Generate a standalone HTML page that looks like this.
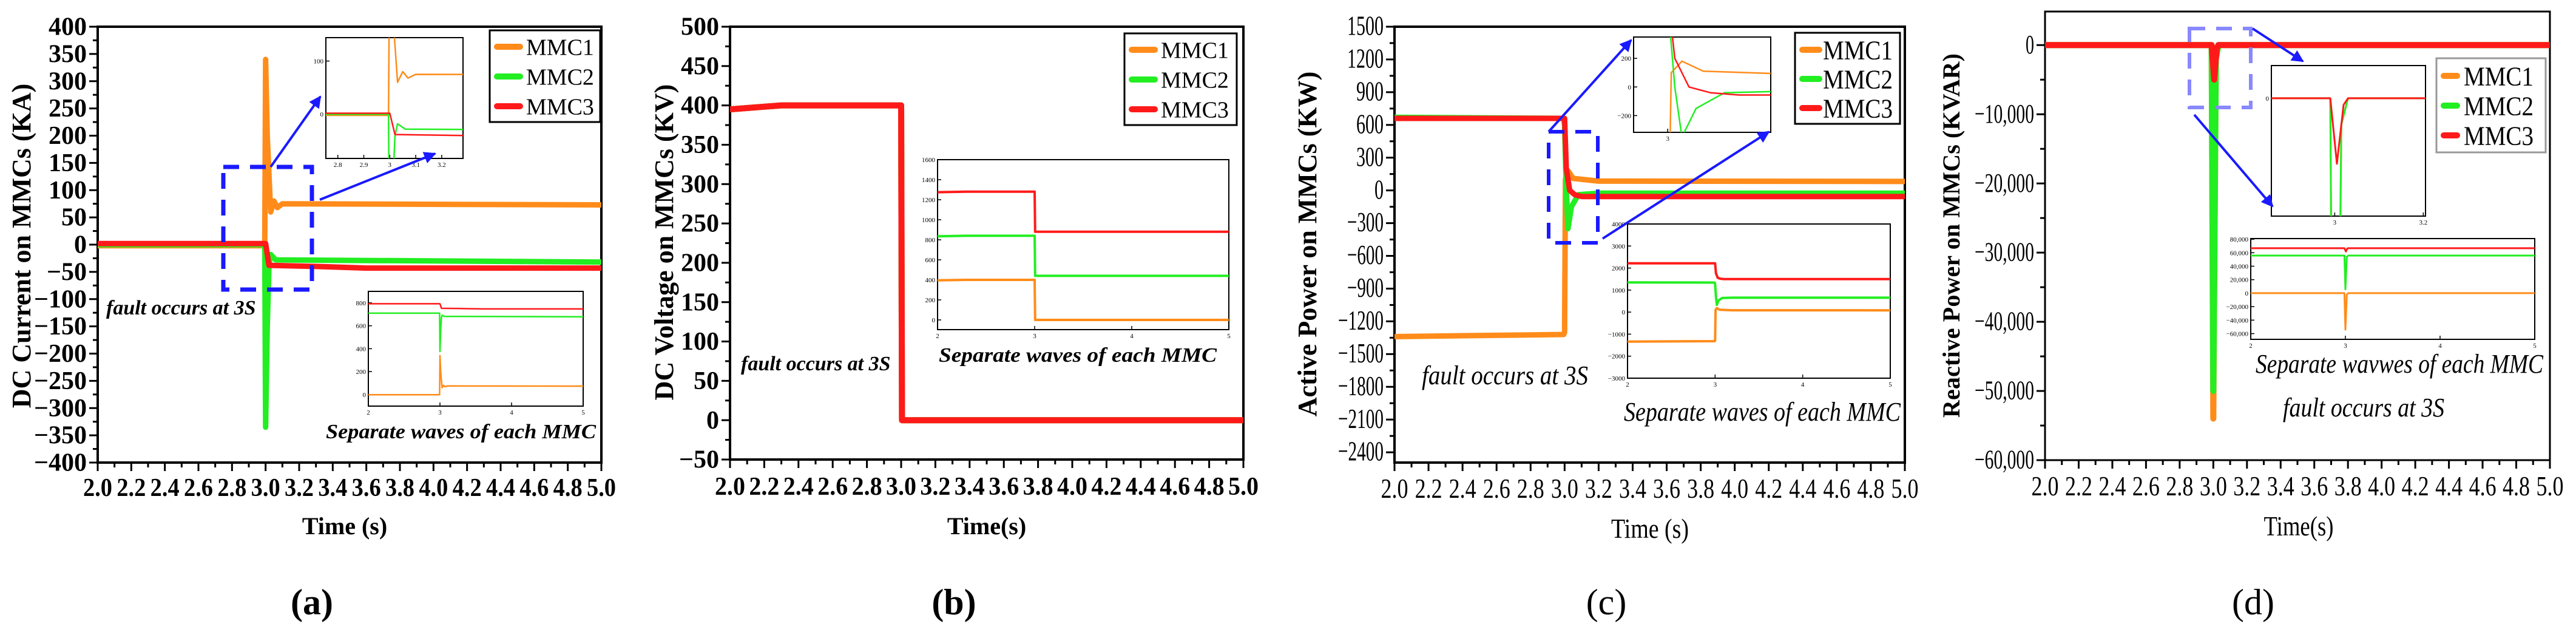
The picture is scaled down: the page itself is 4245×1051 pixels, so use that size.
<!DOCTYPE html>
<html><head><meta charset="utf-8"><style>
html,body{margin:0;padding:0;background:#fff;overflow:hidden;width:4245px;height:1051px;}
svg{display:block;position:absolute;left:0;top:0;}
text{font-family:"Liberation Serif",serif;}
</style></head><body>
<svg id="fig" width="4245" height="1051" viewBox="0 0 4245 1051" overflow="hidden" xmlns="http://www.w3.org/2000/svg">
<defs>
<marker id="arr" viewBox="0 0 10 10" refX="9" refY="5" markerWidth="5" markerHeight="5" orient="auto"><path d="M0,0L10,5L0,10z" fill="#1a1aff"/></marker>
</defs>
</svg>
<script>
// ---------- data ----------
const seriesNames = ["MMC1","MMC2","MMC3"];
const colors = ["#ff8c1a","#22ee22","#ff1a1a"];
// (a) DC current
const tA1=[2,2.995,3.0,3.01,3.03,3.05,3.07,3.1,5];
const vA1=[-2,-2,340,200,60,80,68,75,73];
const tA2=[2,2.995,3.0,3.01,3.02,3.03,3.06,5];
const vA2=[0,0,-335,-150,-40,-18,-28,-32];
const tA3=[2,3.0,3.02,3.3,3.6,5];
const vA3=[2,2,-38,-40,-43,-43];
const offA=[0,710,790];
// (b) DC voltage
const tB=[2,2.3,3.0,3.005,5];
const vB=[395,400,400,0,0];
const offB=[0,440,880];
// (c) active power
const tC1=[2,2.995,3.0,3.005,3.02,3.05,3.2,5];
const vC1=[-1340,-1320,-1300,100,180,110,85,82];
const tC2=[2,2.995,3.0,3.01,3.02,3.04,3.08,3.2,5];
const vC2=[670,660,600,0,-350,-150,-40,-26,-26];
const tC3=[2,3.0,3.01,3.03,3.06,3.1,5];
const vC3=[660,660,200,0,-40,-56,-56];
const offC=[0,680,1556];
// (d) reactive power
const tD1=[2,2.99,3.0,3.015,3.03,5];
const vD1=[0,0,-54000,-2000,0,0];
const tD2=[2,2.99,3.0,3.015,3.03,5];
const vD2=[0,0,-50000,-2000,0,0];
const tD3=[2,2.99,3.005,3.02,3.03,5];
const vD3=[0,0,-5000,-500,0,0];
const offD=[0,55800,66700];
const xTickLabels=["2.0","2.2","2.4","2.6","2.8","3.0","3.2","3.4","3.6","3.8","4.0","4.2","4.4","4.6","4.8","5.0"];

// ---------- helpers ----------
const NS="http://www.w3.org/2000/svg";
const svg=document.getElementById('fig');
function mk(tag,attrs,parent){const e=document.createElementNS(NS,tag);for(const k in attrs)e.setAttribute(k,attrs[k]);(parent||svg).appendChild(e);return e;}
function scale(d0,d1,r0,r1){return v=>r0+(v-d0)/(d1-d0)*(r1-r0);}
let clipId=0;
function drawSeries(g,sx,sy,ts,vs,off,color,w,name){
  let d="";
  for(let i=0;i<ts.length;i++){d+=(i?"L":"M")+sx(ts[i]).toFixed(1)+","+sy(vs[i]+off).toFixed(1);}
  const p=mk('path',{d:d,fill:'none',stroke:color,'stroke-width':w,'stroke-linejoin':'round'},g);
  
  
  return p;
}
function clipG(x0,y0,x1,y1){
  const id='c'+(clipId++);
  const cp=mk('clipPath',{id:id});
  mk('rect',{x:x0,y:y0,width:x1-x0,height:y1-y0},cp);
  return mk('g',{'clip-path':'url(#'+id+')'});
}
function txt(x,y,s,attrs){const t=mk('text',Object.assign({x:x,y:y},attrs||{}));t.textContent=s;return t;}
function fmt(v,comma){let s=Math.abs(v).toString();if(comma)s=s.replace(/\B(?=(\d{3})+(?!\d))/g,",");return (v<0?"\u2212":"")+s;}
function condense(t,s,cw){if(cw){t.setAttribute('textLength',(s.length*cw).toFixed(0));t.setAttribute('lengthAdjust','spacingAndGlyphs');}}

function axes(P){
  const sx=scale(2,5,P.x0,P.x1), sy=scale(P.yd[0],P.yd[1],P.y1,P.y0);
  const g=mk('g',{});
  
  
  mk('rect',{x:P.x0,y:P.y0,width:P.x1-P.x0,height:P.y1-P.y0,fill:'none',stroke:'#000','stroke-width':P.aw},g);
  for(let i=0;i<=30;i++){const t=2+i*0.1,x=sx(t),maj=i%2==0;
    mk('line',{x1:x,x2:x,y1:P.y1,y2:P.y1+(maj?14:8),stroke:'#000','stroke-width':3},g);}
  xTickLabels.forEach((s,i)=>{const t=txt(sx(2+i*0.2),P.xly,s,P.xfont);t.setAttribute('text-anchor','middle');
    condense(t,s,P.xcw);
    });
  for(let v=P.yt[0];v<=P.yt[1]+1e-9;v+=P.ys/2){const y=sy(v),maj=Math.round((v-P.yt[0])/(P.ys/2))%2==0;
    mk('line',{x1:P.x0,x2:P.x0-(maj?14:8),y1:y,y2:y,stroke:'#000','stroke-width':3},g);
    if(maj){const s=fmt(v,P.comma);const t=txt(P.x0-18,y+P.yfs*0.34,s,P.yfont);t.setAttribute('text-anchor','end');
      condense(t,s,P.ycw);
      }}
  return {sx,sy};
}
function inset(I,series,lw,name){
  const g0=mk('g',{});
  
  
  mk('rect',{x:I.x0,y:I.y0,width:I.x1-I.x0,height:I.y1-I.y0,fill:'#fff',stroke:'#000','stroke-width':2},g0);
  const sx=scale(I.xd[0],I.xd[1],I.x0,I.x1), sy=scale(I.yd[0],I.yd[1],I.y1,I.y0);
  I.xt.forEach(t=>{const x=sx(t);mk('line',{x1:x,x2:x,y1:I.y1,y2:I.y1-6,stroke:'#000','stroke-width':1.5},g0);
    txt(x,I.y1+14,String(t),{'font-size':11,'text-anchor':'middle'});});
  I.yt.forEach(v=>{const y=sy(v);mk('line',{x1:I.x0,x2:I.x0+6,y1:y,y2:y,stroke:'#000','stroke-width':1.5},g0);
    txt(I.x0-4,y+4,fmt(v,I.comma),{'font-size':11,'text-anchor':'end'});});
  const g=clipG(I.x0,I.y0,I.x1,I.y1);
  series.forEach((s,i)=>drawSeries(g,sx,sy,s[0],s[1],s[2],colors[i],lw,name+'-'+seriesNames[i].toLowerCase()));
}
function legend(L){
  const g=mk('g',{});
  
  
  mk('rect',{x:L.x,y:L.y,width:L.w,height:L.h,fill:'#fff',stroke:L.stroke||'#000','stroke-width':3},g);
  seriesNames.forEach((n,i)=>{const y=L.y+L.e0+i*L.dy;
    const ln=mk('line',{x1:L.x+12,x2:L.x+12+L.lw,y1:y,y2:y,stroke:colors[i],'stroke-width':10,'stroke-linecap':'round'},g);
    
    const t=txt(L.x+L.tx,y+L.fs*0.35,n,L.font);});
}
function arrow(x1,y1,x2,y2){const a=mk('line',{x1,y1,x2,y2,stroke:'#1a1aff','stroke-width':4,'marker-end':'url(#arr)'});}
function dashBox(x0,y0,x1,y1,c,w){const r=mk('rect',{x:x0,y:y0,width:x1-x0,height:y1-y0,fill:'none',stroke:c,'stroke-width':w,'stroke-dasharray':'26,18'});}
function label(x,y,s,attrs,name){const t=txt(x,y,s,attrs);return t;}

const boldF={'font-size':42,'font-weight':'bold'};
const condF={'font-size':46};
const panelF={'font-size':60,'text-anchor':'middle'};
const panelFB={'font-size':60,'text-anchor':'middle','font-weight':'bold'};

// ---------- panel (a) ----------
(function(){
 const P={name:'panel-a',x0:161,x1:991,y0:44,y1:762,yd:[-400,400],yt:[-400,400],ys:50,aw:4,xly:817,xfont:boldF,xcw:16,yfont:boldF,yfs:40};
 const {sx,sy}=axes(P);
 const g=clipG(P.x0,P.y0,P.x1,P.y1);
 drawSeries(g,sx,sy,tA1,vA1,0,colors[0],9,'mmc1-line');
 drawSeries(g,sx,sy,tA2,vA2,0,colors[1],9,'mmc2-line');
 drawSeries(g,sx,sy,tA3,vA3,0,colors[2],9,'mmc3-line');
 label(35,405,"DC Current on MMCs (KA)",{'font-size':44,'font-weight':'bold','text-anchor':'middle',transform:'rotate(-90 35 405)',dy:15},'y-axis-title');
 label(568,880,"Time (s)",{'font-size':40,'font-weight':'bold','text-anchor':'middle'},'x-axis-title');
 label(514,1012,"(a)",panelFB,'panel-label');
 legend({x:807,y:50,w:182,h:151,e0:27,dy:49,lw:38,tx:60,fs:38,font:{'font-size':38}});
 inset({x0:537,y0:62,x1:763,y1:261,xd:[2.754,3.282],yd:[-83,144],xt:[2.8,2.9,3.0,3.1,3.2],yt:[0,100]},
   [[tA1,vA1,0],[tA2,vA2,0],[tA3,vA3,0]],2.5,'inset-zoom-a');
 inset({x0:607,y0:480,x1:961,y1:669,xd:[2,5],yd:[-101,900],xt:[2,3,4,5],yt:[0,200,400,600,800]},
   [[tA1,vA1,offA[0]],[tA2,vA2,offA[1]],[tA3,vA3,offA[2]]],2.5,'inset-separate-a');
 label(175,518,"fault occurs at 3S",{'font-size':34,'font-style':'italic','font-weight':'bold'},'fault-annotation');
 label(537,722,"Separate waves of each MMC",{'font-size':34,'font-style':'italic','font-weight':'bold',textLength:445,lengthAdjust:'spacingAndGlyphs'},'inset-caption');
 dashBox(368,275,514,477,'#1a1aff',7);
 arrow(446,275,528,159); arrow(527,329,717,253);
})();

// ---------- panel (b) ----------
(function(){
 const P={name:'panel-b',x0:1203,x1:2049,y0:44,y1:757,yd:[-50,500],yt:[-50,500],ys:50,aw:4,xly:815,xfont:boldF,xcw:16.5,yfont:boldF,yfs:40};
 const {sx,sy}=axes(P);
 const g=clipG(P.x0,P.y0,P.x1,P.y1);
 drawSeries(g,sx,sy,tB,vB,0,colors[0],10,'mmc1-line');
 drawSeries(g,sx,sy,tB,vB,0,colors[1],10,'mmc2-line');
 drawSeries(g,sx,sy,tB,vB,0,colors[2],10,'mmc3-line');
 label(1094,399,"DC Voltage on MMCs (KV)",{'font-size':44,'font-weight':'bold','text-anchor':'middle',transform:'rotate(-90 1094 399)',dy:15},'y-axis-title');
 label(1626,880,"Time(s)",{'font-size':40,'font-weight':'bold','text-anchor':'middle'},'x-axis-title');
 label(1572,1012,"(b)",panelFB,'panel-label');
 legend({x:1853,y:55,w:185,h:151,e0:27,dy:49,lw:38,tx:60,fs:38,font:{'font-size':38}});
 inset({x0:1545,y0:263,x1:2025,y1:543,xd:[2,5],yd:[-97,1600],xt:[2,3,4,5],yt:[0,200,400,600,800,1000,1200,1400,1600]},
   [[tB,vB,offB[0]],[tB,vB,offB[1]],[tB,vB,offB[2]]],4,'inset-separate-b');
 label(1221,610,"fault occurs at 3S",{'font-size':34,'font-style':'italic','font-weight':'bold'},'fault-annotation');
 label(1547,596,"Separate waves of each MMC",{'font-size':34,'font-style':'italic','font-weight':'bold',textLength:458,lengthAdjust:'spacingAndGlyphs'},'inset-caption');
})();

// ---------- panel (c) ----------
(function(){
 const P={name:'panel-c',x0:2298,x1:3139,y0:44,y1:762,yd:[-2494,1500],yt:[-2400,1500],ys:300,aw:4,xly:820,xfont:condF,xcw:15,yfont:{'font-size':46},ycw:15,yfs:40};
 const {sx,sy}=axes(P);
 const g=clipG(P.x0,P.y0,P.x1,P.y1);
 drawSeries(g,sx,sy,tC1,vC1,0,colors[0],9,'mmc1-line');
 drawSeries(g,sx,sy,tC2,vC2,0,colors[1],9,'mmc2-line');
 drawSeries(g,sx,sy,tC3,vC3,0,colors[2],9,'mmc3-line');
 label(2154,402,"Active Power on MMCs (KW)",{'font-size':44,'font-weight':'bold','text-anchor':'middle',transform:'rotate(-90 2154 402)',dy:15},'y-axis-title');
 label(2719,886,"Time (s)",{'font-size':46,'text-anchor':'middle',textLength:128,lengthAdjust:'spacingAndGlyphs'},'x-axis-title');
 label(2647,1012,"(c)",panelF,'panel-label');
 legend({x:2958,y:54,w:173,h:150,e0:28,dy:48,lw:28,tx:46,fs:44,font:{'font-size':44,textLength:115,lengthAdjust:'spacingAndGlyphs'}});
 inset({x0:2692,y0:61,x1:2918,y1:218,xd:[2.952,3.145],yd:[-317,349],xt:[3.0],yt:[-200,0,200]},
   [[tC1,vC1,0],[tC2,vC2,0],[tC3,vC3,0]],2.5,'inset-zoom-c');
 inset({x0:2682,y0:369,x1:3115,y1:623,xd:[2,5],yd:[-3000,4000],xt:[2,3,4,5],yt:[-3000,-2000,-1000,0,1000,2000,3000,4000]},
   [[tC1,vC1,offC[0]],[tC2,vC2,offC[1]],[tC3,vC3,offC[2]]],4,'inset-separate-c');
 label(2343,633,"fault occurs at 3S",{'font-size':44,'font-style':'italic',textLength:274,lengthAdjust:'spacingAndGlyphs'},'fault-annotation');
 label(2676,693,"Separate waves of each MMC",{'font-size':44,'font-style':'italic',textLength:456,lengthAdjust:'spacingAndGlyphs'},'inset-caption');
 dashBox(2552,217,2633,400,'#1a1aff',6);
 arrow(2552,217,2688,66); arrow(2641,393,2915,217);
})();

// ---------- panel (d) ----------
(function(){
 const P={name:'panel-d',x0:3370,x1:4202,y0:19,y1:758,yd:[-60000,4850],yt:[-60000,0],ys:10000,aw:3,xly:816,xfont:condF,xcw:15,yfont:{'font-size':44},ycw:14,yfs:40,comma:true};
 const {sx,sy}=axes(P);
 const g=clipG(P.x0,P.y0,P.x1,P.y1);
 drawSeries(g,sx,sy,tD1,vD1,0,colors[0],10,'mmc1-line');
 drawSeries(g,sx,sy,tD2,vD2,0,colors[1],10,'mmc2-line');
 drawSeries(g,sx,sy,tD3,vD3,0,colors[2],10,'mmc3-line');
 label(3215,388,"Reactive Power on MMCs (KVAR)",{'font-size':40,'font-weight':'bold','text-anchor':'middle',transform:'rotate(-90 3215 388)',dy:14,textLength:600,lengthAdjust:'spacing'},'y-axis-title');
 label(3788,882,"Time(s)",{'font-size':46,'text-anchor':'middle',textLength:115,lengthAdjust:'spacingAndGlyphs'},'x-axis-title');
 label(3713,1012,"(d)",panelF,'panel-label');
 legend({x:4015,y:96,w:180,h:155,e0:29,dy:49,lw:22,tx:45,fs:44,stroke:'#999',font:{'font-size':44,textLength:115,lengthAdjust:'spacingAndGlyphs'}});
 inset({x0:3743,y0:108,x1:3997,y1:356,xd:[2.857,3.205],yd:[-9000,2500],xt:[3.0,3.2],yt:[0]},
   [[tD1,vD1,0],[tD2,vD2,0],[tD3,vD3,0]],3,'inset-zoom-d');
 inset({x0:3709,y0:393,x1:4177,y1:559,xd:[2,5],yd:[-68500,81000],xt:[2,3,4,5],yt:[-60000,-40000,-20000,0,20000,40000,60000,80000],comma:true},
   [[tD1,vD1,offD[0]],[tD2,vD2,offD[1]],[tD3,vD3,offD[2]]],3,'inset-separate-d');
 label(3717,614,"Separate wavwes of each MMC",{'font-size':44,'font-style':'italic',textLength:474,lengthAdjust:'spacingAndGlyphs'},'inset-caption');
 label(3762,686,"fault occurs at 3S",{'font-size':44,'font-style':'italic',textLength:266,lengthAdjust:'spacingAndGlyphs'},'fault-annotation');
 dashBox(3608,47,3709,177,'#8888ff',6);
 arrow(3712,47,3795,101); arrow(3616,189,3745,340);
})();
</script>
</body></html>
